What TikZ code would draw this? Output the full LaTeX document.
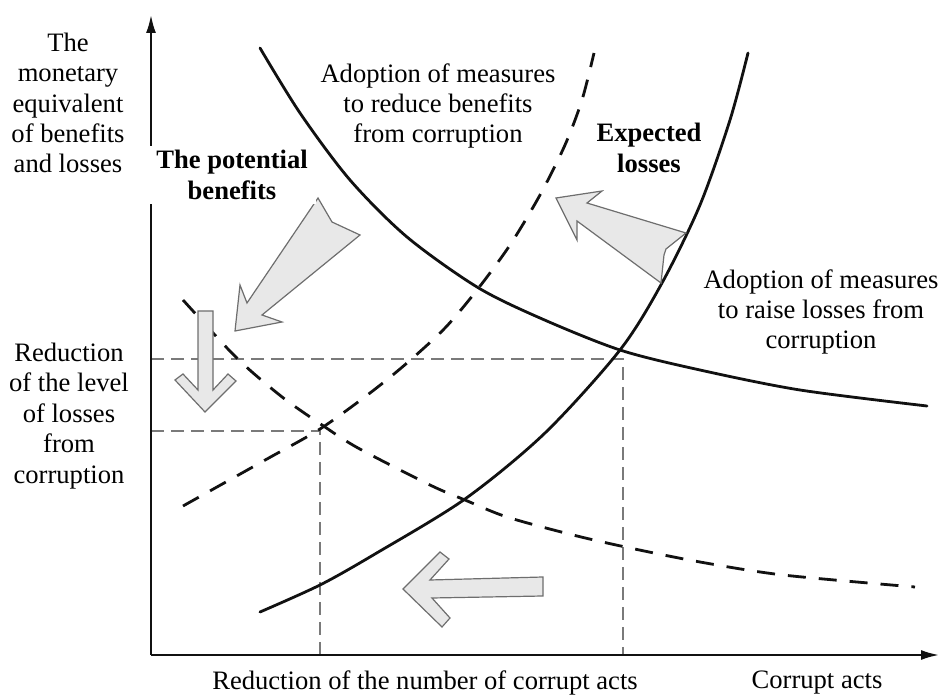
\documentclass[tikz,border=0pt]{standalone}
\usepackage{fontspec}
\setmainfont{Liberation Serif}
\usepackage{tikz}
\usetikzlibrary{arrows.meta}
\definecolor{Ink}{HTML}{111111}
\definecolor{Guide}{HTML}{7A7A7A}
\definecolor{Shade}{HTML}{E8E8E8}
\definecolor{Rim}{HTML}{6E6E6E}

\begin{document}
\begin{tikzpicture}[
    x=0.5pt,y=-0.5pt,
    every node/.style={font=\fontsize{13.3}{15.2}\selectfont},
    axis/.style={-{Latex[length=9pt,width=5pt]},line width=1pt,draw=Ink},
    curve/.style={line width=1.4pt,draw=Ink,line cap=round},
    dashcurve/.style={curve,line cap=butt,dash pattern=on 9pt off 6.5pt},
    guide/.style={draw=Guide,line width=0.7pt,dash pattern=on 6.5pt off 3.5pt},
    blockarrow/.style={fill=Shade,draw=Rim,line width=0.6pt,line join=miter},
    caption/.style={align=center,inner sep=0pt},
    tag/.style={align=center,fill=white,font=\fontsize{13.3}{15.2}\selectfont\bfseries,
      inner xsep=4pt,inner ysep=2pt}
]
\useasboundingbox (0,0) rectangle (939,695);

\coordinate (origin) at (151,655);
\coordinate (ytop) at (151,15);
\coordinate (xend) at (939,655);

% guide lines to the two equilibria
\draw[guide] (origin |- 0,359) -- (623,359) -- (origin -| 623,0);
\draw[guide] (origin |- 0,431) -- (320,431) -- (origin -| 320,0);

% benefit and loss curves
\draw[curve] plot[smooth] coordinates {(260,48) (300,113) (350,180) (407,237) (477,287)
  (540,318) (620,350) (700,370) (800,390) (927,406)};
\draw[curve] plot[smooth] coordinates {(260,612) (320,585) (375,554) (465,499) (545,433)
  (620,350) (662,283) (700,205) (730,120) (748,53)};
\draw[dashcurve] plot[smooth] coordinates {(183,300) (227,348) (252,372) (286,400) (322,425)
  (358,448) (430,485) (465,500) (507,517) (573,535) (630,548) (700,562) (783,575) (915,587)};
\draw[dashcurve] plot[smooth] coordinates {(183,506) (267,459) (320,429) (370,393) (407,363)
  (445,328) (477,290) (510,245) (540,195) (565,145) (582,100) (594,53)};

% axes
\draw[axis] (origin) -- (ytop);
\draw[axis] (origin) -- (xend);

% shift arrows
\draw[blockarrow] (318,198) -- (332,222) -- (360,235) -- (262,315) -- (282,322)
  -- (235,331) -- (240,285) -- (247,303) -- cycle;
\draw[blockarrow] (686,233) -- (666,249) -- (664,255) -- (661,283) -- (577,221)
  -- (577,240) -- (556,198) -- (602,191) -- (587,203) -- cycle;
\draw[blockarrow] (198,311) -- (213,311) -- (213,390) -- (228,374) -- (236,381)
  -- (205,412) -- (175,380) -- (183,374) -- (198,390) -- cycle;
\draw[blockarrow] (543,577) -- (543,596) -- (432,598) -- (450,618) -- (442,627)
  -- (403,589) -- (440,552) -- (449,559) -- (430,580) -- cycle;

% labels
\node[caption] (ytitle) at (68,103) {The\\monetary\\equivalent\\of benefits\\and losses};
\node[caption] (ylevel) at (69,416) {Reduction\\of the level\\of losses\\from\\corruption};
\node[caption] (xcount) at (425,683) {Reduction of the number of corrupt acts};
\node[caption] (xtitle) at (817,683) {Corrupt acts};
\node[caption] (cutbenefit) at (438,106) {Adoption of measures\\to reduce benefits\\from corruption};
\node[caption] (raiseloss) at (821,312) {Adoption of measures\\to raise losses from\\corruption};
\node[tag] (benefits) at (232,175) {The potential\\benefits};
\node[tag,inner xsep=1.5pt] (losses) at (649,148) {Expected\\losses};
\end{tikzpicture}
\end{document}
